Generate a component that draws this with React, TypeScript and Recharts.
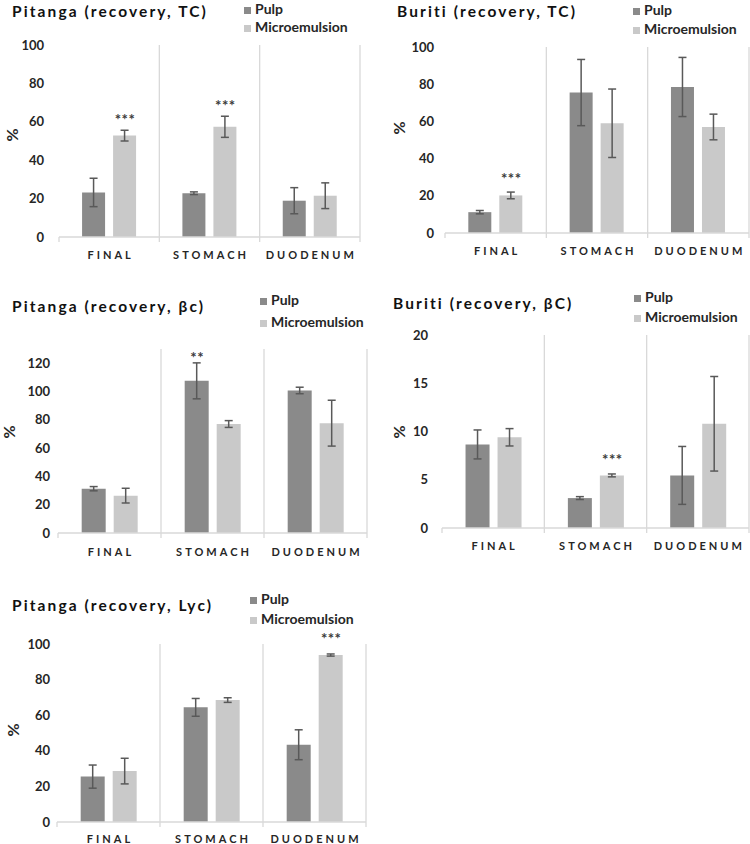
import React from "react";
import { BarChart, Bar, XAxis, YAxis, ErrorBar, LabelList, Legend, ReferenceLine } from "recharts";

const FONT = "Lato, 'Open Sans', sans-serif";
const PULP_COLOR = "#8a8a8a";
const MICRO_COLOR = "#c9c9c9";
const GRID = "#d9d9d9";
const ERR = "#595959";
const TEXT = "#262626";

const categories = ["FINAL", "STOMACH", "DUODENUM"];
const seriesNames = ["Pulp", "Microemulsion"];

// Pitanga, total carotenoids
const pitangaTcPulp = [23.2, 22.8, 18.9];
const pitangaTcPulpErr = [7.4, 0.7, 6.8];
const pitangaTcMicro = [52.8, 57.4, 21.5];
const pitangaTcMicroErr = [2.8, 5.5, 6.7];
const pitangaTcPulpSig = ["", "", ""];
const pitangaTcMicroSig = ["***", "***", ""];

// Buriti, total carotenoids
const buritiTcPulp = [11.2, 75.5, 78.5];
const buritiTcPulpErr = [0.9, 17.8, 15.9];
const buritiTcMicro = [20.2, 59, 57];
const buritiTcMicroErr = [1.8, 18.4, 6.9];
const buritiTcPulpSig = ["", "", ""];
const buritiTcMicroSig = ["***", "", ""];

// Pitanga, beta-carotene
const pitangaBcPulp = [31.3, 107.5, 100.7];
const pitangaBcPulpErr = [1.5, 12.7, 2.3];
const pitangaBcMicro = [26.4, 77, 77.6];
const pitangaBcMicroErr = [5.2, 2.4, 16.2];
const pitangaBcPulpSig = ["", "**", ""];
const pitangaBcMicroSig = ["", "", ""];

// Buriti, beta-carotene
const buritiBcPulp = [8.66, 3.1, 5.45];
const buritiBcPulpErr = [1.5, 0.15, 3.0];
const buritiBcMicro = [9.4, 5.45, 10.8];
const buritiBcMicroErr = [0.9, 0.15, 4.9];
const buritiBcPulpSig = ["", "", ""];
const buritiBcMicroSig = ["", "***", ""];

// Pitanga, lycopene
const pitangaLycPulp = [25.5, 64.4, 43.4];
const pitangaLycPulpErr = [6.5, 5.0, 8.4];
const pitangaLycMicro = [28.6, 68.5, 93.8];
const pitangaLycMicroErr = [7.2, 1.3, 0.6];
const pitangaLycPulpSig = ["", "", ""];
const pitangaLycMicroSig = ["", "", "***"];

const ticks100 = [0, 20, 40, 60, 80, 100];
const ticks120 = [0, 20, 40, 60, 80, 100, 120];
const ticks20 = [0, 5, 10, 15, 20];

type Panel = {
  title: string;
  pulp: number[];
  pulpErr: number[];
  micro: number[];
  microErr: number[];
  pulpSig: string[];
  microSig: string[];
  yMax: number;
  yTicks: number[];
  left: number;
  top: number;
  w: number;
  h: number;
  plot: { l: number; r: number; t: number; b: number };
  yGap: number;
  xGap: number;
  titleX: number;
  titleTop: number;
  legendX: number;
  legendTop: number;
  legendLine: number;
  pctX: number;
  pctY: number;
  sigGap: number;
};

const panels: Panel[] = [
  {
    title: "Pitanga (recovery, TC)",
    pulp: pitangaTcPulp, pulpErr: pitangaTcPulpErr, micro: pitangaTcMicro, microErr: pitangaTcMicroErr,
    pulpSig: pitangaTcPulpSig, microSig: pitangaTcMicroSig, yMax: 100, yTicks: ticks100,
    left: 0, top: 0, w: 375, h: 280, plot: { l: 59, r: 360, t: 45, b: 237 },
    yGap: 15, xGap: 8, titleX: 12, titleTop: 4, legendX: 244, legendTop: 0, legendLine: 18,
    pctX: 11, pctY: 135, sigGap: 13,
  },
  {
    title: "Buriti (recovery, TC)",
    pulp: buritiTcPulp, pulpErr: buritiTcPulpErr, micro: buritiTcMicro, microErr: buritiTcMicroErr,
    pulpSig: buritiTcPulpSig, microSig: buritiTcMicroSig, yMax: 100, yTicks: ticks100,
    left: 375, top: 0, w: 375, h: 280, plot: { l: 70, r: 374, t: 47, b: 233 },
    yGap: 11, xGap: 8, titleX: 22, titleTop: 4, legendX: 258, legendTop: 0, legendLine: 19,
    pctX: 23, pctY: 128, sigGap: 16,
  },
  {
    title: "Pitanga (recovery, βc)",
    pulp: pitangaBcPulp, pulpErr: pitangaBcPulpErr, micro: pitangaBcMicro, microErr: pitangaBcMicroErr,
    pulpSig: pitangaBcPulpSig, microSig: pitangaBcMicroSig, yMax: 130, yTicks: ticks120,
    left: 0, top: 280, w: 375, h: 280, plot: { l: 58, r: 367, t: 69, b: 253 },
    yGap: 8, xGap: 9, titleX: 12, titleTop: 19, legendX: 260, legendTop: 9, legendLine: 22,
    pctX: 8, pctY: 152, sigGap: 8,
  },
  {
    title: "Buriti (recovery, βC)",
    pulp: buritiBcPulp, pulpErr: buritiBcPulpErr, micro: buritiBcMicro, microErr: buritiBcMicroErr,
    pulpSig: buritiBcPulpSig, microSig: buritiBcMicroSig, yMax: 20, yTicks: ticks20,
    left: 375, top: 280, w: 375, h: 280, plot: { l: 67, r: 374, t: 55, b: 248 },
    yGap: 14, xGap: 8, titleX: 18, titleTop: 16, legendX: 259, legendTop: 7, legendLine: 20,
    pctX: 23, pctY: 152, sigGap: 17,
  },
  {
    title: "Pitanga (recovery, Lyc)",
    pulp: pitangaLycPulp, pulpErr: pitangaLycPulpErr, micro: pitangaLycMicro, microErr: pitangaLycMicroErr,
    pulpSig: pitangaLycPulpSig, microSig: pitangaLycMicroSig, yMax: 100, yTicks: ticks100,
    left: 0, top: 560, w: 375, h: 284, plot: { l: 57, r: 366, t: 84, b: 262 },
    yGap: 7, xGap: 7, titleX: 12, titleTop: 38, legendX: 250, legendTop: 29, legendLine: 20,
    pctX: 12, pctY: 170, sigGap: 18,
  },
];

function sigContent(rows: any[], key: string, errKey: string, gap: number) {
  return (props: any) => {
    const label = props.value;
    if (!label) return null;
    const vb = props.viewBox ?? props;
    const { x, y, width, height } = vb;
    const row = rows[props.index];
    const pxPerUnit = height / row[key];
    const errTop = y - row[errKey] * pxPerUnit;
    return (
      <text
        x={x + width / 2 + 0.5}
        y={errTop - gap + 8}
        textAnchor="middle"
        fill="#3a3a3a"
        fontSize={15}
        fontWeight={700}
        fontFamily={FONT}
        letterSpacing={0.5}
      >
        {label}
      </text>
    );
  };
}

function PanelChart({ p }: { p: Panel }) {
  const rows = categories.map((cat, i) => ({
    cat,
    pulp: p.pulp[i],
    pulpErr: p.pulpErr[i],
    pulpSig: p.pulpSig[i],
    micro: p.micro[i],
    microErr: p.microErr[i],
    microSig: p.microSig[i],
  }));
  const xAxisHeight = 30;
  const ext = (5 * p.yMax) / (p.plot.b - p.plot.t);

  return (
    <div style={{ position: "absolute", left: p.left, top: p.top, width: p.w, height: p.h }}>
      <BarChart
        width={p.w}
        height={p.h}
        data={rows}
        margin={{ top: p.plot.t, right: p.w - p.plot.r, left: 0, bottom: p.h - p.plot.b - xAxisHeight }}
        barCategoryGap="23%"
        barGap={8}
      >
        <XAxis
          dataKey="cat"
          height={xAxisHeight}
          axisLine={{ stroke: GRID, strokeWidth: 1.3 }}
          tickLine={false}
          tickMargin={p.xGap}
          tick={{ fill: TEXT, fontSize: 11, fontWeight: 700, fontFamily: FONT, letterSpacing: 3, dx: 1.5 }}
          interval={0}
        />
        <YAxis
          width={p.plot.l}
          domain={[0, p.yMax]}
          ticks={p.yTicks}
          interval={0}
          axisLine={false}
          tickLine={false}
          tickSize={0}
          tickMargin={p.yGap}
          tick={{ fill: TEXT, fontSize: 13, fontWeight: 700, fontFamily: FONT }}
        />
        <ReferenceLine
          ifOverflow="visible"
          position="start"
          segment={[{ x: categories[0], y: -ext }, { x: categories[0], y: 0 }]}
          stroke={GRID}
          strokeWidth={1.3}
        />
        {categories.map((c) => (
          <ReferenceLine
            key={c}
            ifOverflow="visible"
            position="end"
            segment={[{ x: c, y: -ext }, { x: c, y: p.yMax }]}
            stroke={GRID}
            strokeWidth={1.3}
          />
        ))}
        <Legend
          layout="vertical"
          align="center"
          verticalAlign="middle"
          iconType="square"
          iconSize={7}
          itemSorter={(item: any) => seriesNames.indexOf(item.value)}
          formatter={(value) => <span style={{ color: TEXT }}>{value}</span>}
          wrapperStyle={{
            left: p.legendX,
            top: p.legendTop,
            width: "auto",
            lineHeight: `${p.legendLine}px`,
            fontSize: 14,
            fontWeight: 700,
            fontFamily: FONT,
          }}
        />
        <Bar dataKey="pulp" name={seriesNames[0]} fill={PULP_COLOR} isAnimationActive={false}>
          <ErrorBar dataKey="pulpErr" width={4} stroke={ERR} strokeWidth={1.5} direction="y" />
          <LabelList dataKey="pulpSig" content={sigContent(rows, "pulp", "pulpErr", p.sigGap)} />
        </Bar>
        <Bar dataKey="micro" name={seriesNames[1]} fill={MICRO_COLOR} isAnimationActive={false}>
          <ErrorBar dataKey="microErr" width={4} stroke={ERR} strokeWidth={1.5} direction="y" />
          <LabelList dataKey="microSig" content={sigContent(rows, "micro", "microErr", p.sigGap)} />
        </Bar>
      </BarChart>
      <div
        style={{
          position: "absolute",
          left: p.titleX,
          top: p.titleTop,
          fontFamily: FONT,
          fontSize: 15.5,
          lineHeight: "15px",
          letterSpacing: 2.1,
          fontWeight: 700,
          color: "#111",
          whiteSpace: "nowrap",
        }}
      >
        {p.title}
      </div>
      <div
        style={{
          position: "absolute",
          left: p.pctX - 10,
          top: p.pctY - 10,
          width: 20,
          height: 20,
          display: "flex",
          alignItems: "center",
          justifyContent: "center",
          transform: "rotate(-90deg)",
          fontFamily: FONT,
          fontSize: 16,
          fontWeight: 700,
          color: TEXT,
        }}
      >
        %
      </div>
    </div>
  );
}

export default function App() {
  return (
    <div style={{ position: "absolute", left: 0, top: 0, width: 750, height: 844, background: "#fff", overflow: "hidden" }}>
      {panels.map((p) => (
        <PanelChart key={p.title} p={p} />
      ))}
    </div>
  );
}
